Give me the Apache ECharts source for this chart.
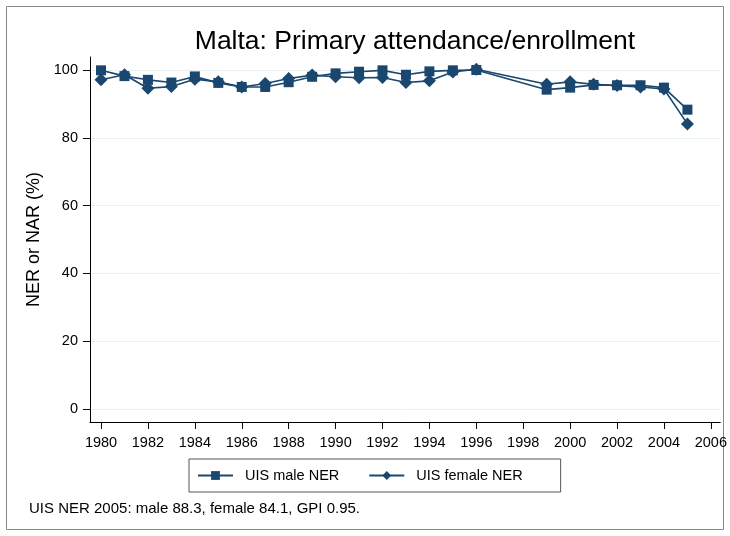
<!DOCTYPE html>
<html>
<head>
<meta charset="utf-8">
<script src="https://cdn.jsdelivr.net/npm/echarts@6/dist/echarts.min.js"></script>
<style>
  html, body { margin: 0; padding: 0; background: #fff; }
  #chart { width: 730px; height: 536px; }
</style>
</head>
<body>
<div id="chart"></div>
<script>
// data
const years = [1980, 1981, 1982, 1983, 1984, 1985, 1986, 1987, 1988, 1989, 1990, 1991, 1992, 1993, 1994, 1995, 1996, 1999, 2000, 2001, 2002, 2003, 2004, 2005];
const maleNER = [99.9, 98.2, 97.1, 96.3, 98.1, 96.2, 95.0, 95.0, 96.4, 98.0, 99.0, 99.5, 99.9, 98.6, 99.6, 99.9, 100.0, 94.2, 94.8, 95.6, 95.5, 95.5, 94.8, 88.3];
const femaleNER = [97.1, 98.6, 94.6, 95.1, 97.3, 96.5, 95.0, 96.0, 97.5, 98.5, 98.0, 97.7, 97.8, 96.3, 96.8, 99.4, 100.2, 95.8, 96.5, 95.8, 95.4, 95.0, 94.4, 84.1];
const xTicks = [1980, 1982, 1984, 1986, 1988, 1990, 1992, 1994, 1996, 1998, 2000, 2002, 2004, 2006];
const yTicks = [0, 20, 40, 60, 80, 100];

const navy = '#1a476f';
const font = 'Liberation Sans, Arial, sans-serif';

const toPairs = (vals) => years.map((y, i) => [y, vals[i]]);

const chart = echarts.init(document.getElementById('chart'), null, { renderer: 'canvas' });
chart.setOption({
  animation: false,
  backgroundColor: '#fff',
  textStyle: { fontFamily: font },
  title: {
    text: 'Malta: Primary attendance/enrollment',
    left: 410,
    textAlign: 'center',
    top: 23,
    textStyle: { fontSize: 26.5, fontWeight: 'normal', color: '#000', fontFamily: font }
  },
  graphic: [
    { type: 'rect', shape: { x: 6.5, y: 6.5, width: 717, height: 523 }, style: { fill: null, stroke: '#888', lineWidth: 1 }, silent: true },
    { type: 'text', left: 29, top: 501, style: { text: 'UIS NER 2005: male 88.3, female 84.1, GPI 0.95.', fontSize: 15, fill: '#000', fontFamily: font } }
  ],
  legend: {
    left: 189,
    top: 459,
    padding: [9, 38, 9, 8],
    itemWidth: 35,
    itemHeight: 11,
    itemGap: 29,
    borderColor: '#555',
    borderWidth: 1,
    textStyle: { fontSize: 14.5, color: '#000', fontFamily: font, padding: [0, 0, 0, 7] },
    data: ['UIS male NER', 'UIS female NER']
  },
  grid: { left: 90, right: 9, top: 57, bottom: 114, containLabel: false },
  xAxis: {
    type: 'value',
    min: 1979.53,
    max: 2006.4,
    axisLine: { show: true, onZero: false, lineStyle: { color: '#000', width: 1 } },
    axisTick: { show: true, length: 7, customValues: xTicks, lineStyle: { color: '#000' } },
    axisLabel: { customValues: xTicks, formatter: (v) => String(v), fontSize: 14.5, color: '#000', margin: 13, fontFamily: font },
    splitLine: { show: false }
  },
  yAxis: {
    type: 'value',
    min: -3.835,
    max: 103.835,
    name: 'NER or NAR (%)',
    nameLocation: 'middle',
    nameGap: 40,
    nameTextStyle: { fontSize: 18, color: '#000', fontFamily: font },
    axisLine: { show: true, onZero: false, lineStyle: { color: '#000', width: 1 } },
    axisTick: { show: true, length: 7, customValues: yTicks, lineStyle: { color: '#000' } },
    axisLabel: { customValues: yTicks, fontSize: 14.5, color: '#000', margin: 12, fontFamily: font },
    splitLine: { show: true, lineStyle: { color: '#eaf0f2', width: 1 } }
  },
  series: [
    {
      name: 'UIS male NER',
      type: 'line',
      data: toPairs(maleNER),
      symbol: 'rect',
      symbolSize: 10,
      itemStyle: { color: navy },
      lineStyle: { color: navy, width: 1.6 }
    },
    {
      name: 'UIS female NER',
      type: 'line',
      data: toPairs(femaleNER),
      symbol: 'diamond',
      symbolSize: 13,
      itemStyle: { color: navy },
      lineStyle: { color: navy, width: 1.6 }
    }
  ]
});
</script>
</body>
</html>
